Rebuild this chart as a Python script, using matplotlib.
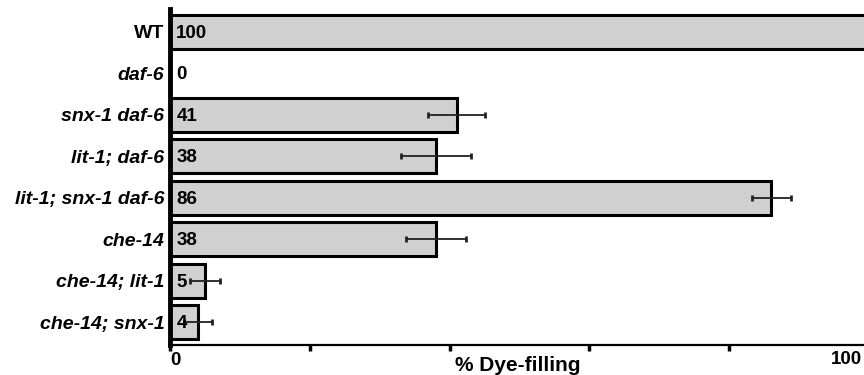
import matplotlib
matplotlib.use("Agg")
import matplotlib.pyplot as plt

strains = ["WT", "daf-6", "snx-1 daf-6", "lit-1; daf-6", "lit-1; snx-1 daf-6",
           "che-14", "che-14; lit-1", "che-14; snx-1"]
values = [100, 0, 41, 38, 86, 38, 5, 4]
errors = [0, 0, 4.1, 5.0, 2.8, 4.3, 2.1, 2.0]
xticks = [0, 20, 40, 60, 80, 100]
xticklabels = ["0", "", "", "", "", ""]
xmax_label = "100"

plt.rcParams['font.family'] = ['Liberation Sans', 'DejaVu Sans']

fig = plt.figure(figsize=(8.64, 3.75), dpi=100)
W, H = 864, 375
x0, x1 = 170, 869
ytop, ybot = 9, 345
ax = fig.add_axes([x0 / W, (H - ybot) / H, (x1 - x0) / W, (ybot - ytop) / H])

ypos = list(range(len(strains)))
ax.barh(ypos, values, height=0.82, color="#d0d0d0", edgecolor="black",
        linewidth=2.2, zorder=2, clip_on=True)
for y, v, e in zip(ypos, values, errors):
    if e > 0:
        ax.errorbar(v, y, xerr=e, fmt="none", ecolor="#222222", elinewidth=1.3,
                    capsize=2, capthick=2.0, zorder=3)
    ax.text(0.9, y + 0.04, str(v), va="center", ha="left", fontsize=13.5,
            fontweight="bold", zorder=4)

ax.set_ylim(len(strains) - 0.45, -0.55)
ax.set_xlim(0, 100)
ax.set_yticks(ypos)
labels = ax.set_yticklabels(strains, fontsize=14, fontweight="bold")
for lab in labels:
    if lab.get_text() != "WT":
        lab.set_fontstyle("italic")
ax.tick_params(axis="y", length=0, pad=4)
ax.set_xticks(xticks)
ax.set_xticklabels(xticklabels, fontsize=13.5, fontweight="bold")
ax.tick_params(axis="x", length=4, width=2.5, direction="out", pad=1)
xl = ax.get_xticklabels()
xl[0].set_ha("left")

fig.text(862 / W, (H - 351) / H, xmax_label, ha="right", va="top",
         fontsize=13.5, fontweight="bold")

ax.spines["top"].set_visible(False)
ax.spines["right"].set_visible(False)
ax.spines["left"].set_linewidth(3.5)
ax.spines["bottom"].set_linewidth(1.6)

fig.text(518 / W, (H - 356) / H, "% Dye-filling", ha="center", va="top",
         fontsize=15, fontweight="bold")

fig.savefig("out.png", dpi=100)
